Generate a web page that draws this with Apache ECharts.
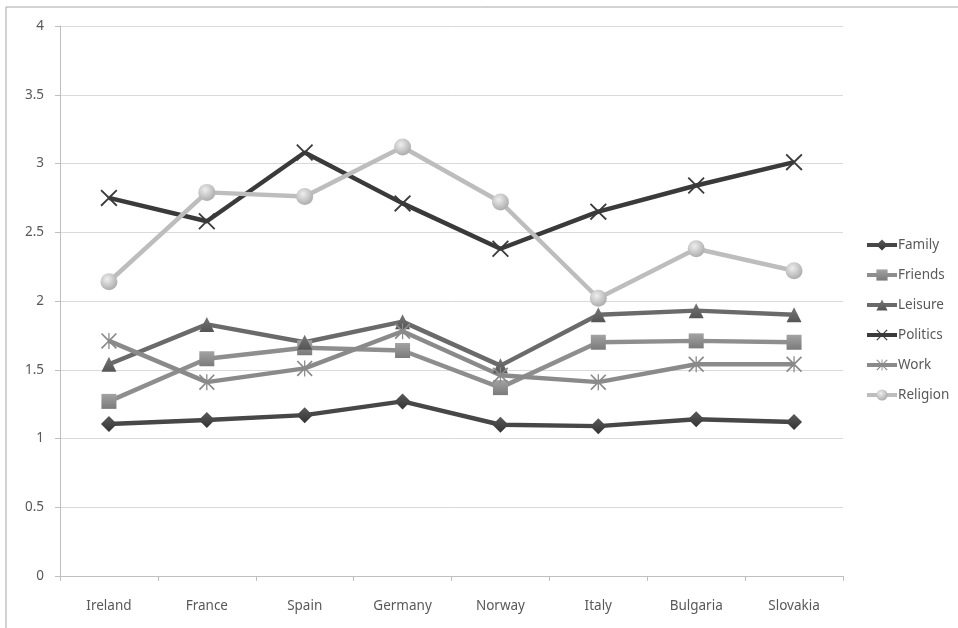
<!DOCTYPE html>
<html>
<head>
<meta charset="utf-8">
<script src="https://cdn.jsdelivr.net/npm/echarts@6/dist/echarts.min.js"></script>
<style>
html,body{margin:0;padding:0;background:#fff;}
#c{width:958px;height:628px;}
</style>
</head>
<body>
<div id="c"></div>
<script>
var categories = ['Ireland','France','Spain','Germany','Norway','Italy','Bulgaria','Slovakia'];
var family   = [1.105, 1.135, 1.17, 1.27, 1.10, 1.09, 1.14, 1.12];
var friends  = [1.27, 1.58, 1.66, 1.64, 1.37, 1.70, 1.71, 1.70];
var leisure  = [1.54, 1.83, 1.70, 1.85, 1.53, 1.90, 1.93, 1.90];
var politics = [2.75, 2.58, 3.08, 2.71, 2.38, 2.65, 2.84, 3.01];
var work     = [1.71, 1.41, 1.51, 1.78, 1.46, 1.41, 1.54, 1.54];
var religion = [2.14, 2.79, 2.76, 3.12, 2.72, 2.02, 2.38, 2.22];
var yTicks = [0, 0.5, 1, 1.5, 2, 2.5, 3, 3.5, 4];

var crossPath = 'path://M0,1.5 L1.5,0 L10,8.5 L18.5,0 L20,1.5 L11.5,10 L20,18.5 L18.5,20 L10,11.5 L1.5,20 L0,18.5 L8.5,10 Z';
var starPath = 'path://M0,1.5 L1.5,0 L10,8.5 L18.5,0 L20,1.5 L11.5,10 L20,18.5 L18.5,20 L10,11.5 L1.5,20 L0,18.5 L8.5,10 Z M9.2,0 L10.8,0 L10.8,20 L9.2,20 Z';

function grad(c1, c2){
  return {type:'linear',x:0,y:0,x2:0,y2:1,colorStops:[{offset:0,color:c1},{offset:1,color:c2}]};
}

function mk(name, data, color, symbol, size, mcolor){
  return {
    name: name, type: 'line', data: data,
    symbol: symbol, symbolSize: size,
    lineStyle: {color: color, width: 4.5},
    itemStyle: {color: mcolor || color, borderWidth: 0},
    emphasis: {disabled: true},
    z: 2
  };
}

var chart = echarts.init(document.getElementById('c'), null, {renderer:'canvas'});
chart.setOption({
  animation: false,
  backgroundColor: '#fff',
  textStyle: {fontFamily: 'Noto Sans'},
  graphic: [{
    type: 'rect', shape: {x: 6, y: 7, width: 1000, height: 700},
    style: {fill: 'none', stroke: '#a6a6a6', lineWidth: 1}, silent: true
  }],
  grid: {left: 60, right: 115, top: 26, bottom: 52, containLabel: false},
  legend: {
    orient: 'vertical', left: 860, top: 233, itemGap: 16,
    itemWidth: 30, itemHeight: 14,
    lineStyle: {width: 4},
    textStyle: {color: '#595959', fontSize: 13.5, padding: [0,0,0,-4]},
    data: ['Family','Friends','Leisure','Politics','Work','Religion']
  },
  xAxis: {
    type: 'category', data: categories, boundaryGap: true,
    axisLine: {lineStyle: {color: '#bfbfbf'}},
    axisTick: {show: true, length: 5, lineStyle: {color: '#bfbfbf'}},
    axisLabel: {color: '#595959', fontSize: 13.5, margin: 23}
  },
  yAxis: {
    type: 'value', min: yTicks[0], max: yTicks[yTicks.length-1], interval: 0.5,
    axisLine: {show: true, lineStyle: {color: '#bfbfbf'}},
    axisTick: {show: true, length: 5, lineStyle: {color: '#bfbfbf'}},
    splitLine: {lineStyle: {color: '#d9d9d9', width: 1}},
    axisLabel: {color: '#595959', fontSize: 13.5, margin: 16}
  },
  series: [
    mk('Family', family, '#474747', 'diamond', 16, grad('#5a5a5a','#333333')),
    mk('Friends', friends, '#8e8e8e', 'rect', 15, grad('#a3a3a3','#7a7a7a')),
    mk('Leisure', leisure, '#6a6a6a', 'triangle', 15, grad('#777777','#555555')),
    mk('Politics', politics, '#3a3a3a', crossPath, 17, '#3a3a3a'),
    mk('Work', work, '#8a8a8a', starPath, 16, '#8a8a8a'),
    mk('Religion', religion, '#bdbdbd', 'circle', 17,
       {type:'radial',x:0.4,y:0.35,r:0.7,colorStops:[{offset:0,color:'#eeeeee'},{offset:1,color:'#a8a8a8'}]})
  ]
});
</script>
</body>
</html>
